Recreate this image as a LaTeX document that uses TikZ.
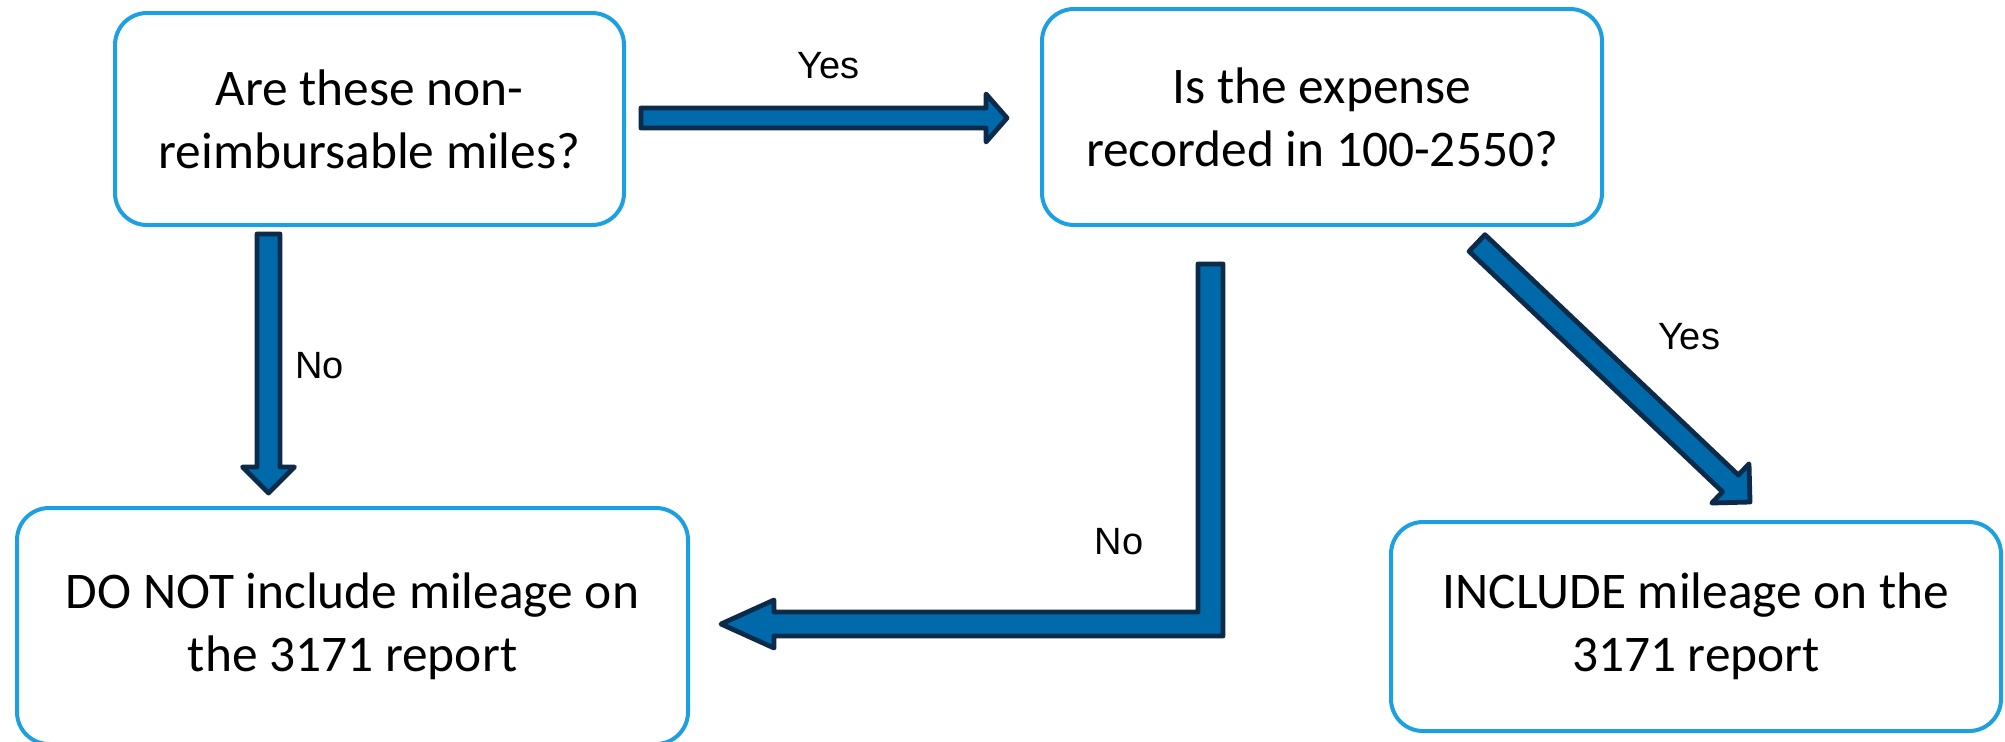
\documentclass[tikz,border=0pt]{standalone}
\usepackage{fontspec}
\setmainfont{Carlito}
\newfontfamily\labelfont{Liberation Sans}
\usetikzlibrary{calc}
\definecolor{boxblue}{RGB}{29,160,226}
\definecolor{arrfill}{RGB}{0,105,170}
\definecolor{arrline}{RGB}{12,43,74}
\tikzset{
  qbox/.style={draw=boxblue, line width=2pt, rounded corners=16pt, fill=white,
    align=center, font=\fontsize{25.7pt}{31.5pt}\selectfont, inner sep=0pt},
  blockarr/.style={fill=arrfill, draw=arrline, line width=2.4pt, line join=round},
  lbl/.style={font=\labelfont\fontsize{19pt}{22pt}\selectfont, inner sep=0pt}
}
% #1 start, #2 end, #3 shaft half width, #4 head half width, #5 head length
\newcommand{\blockarrow}[5]{%
  \coordinate (hb) at ($(#2)!#5!(#1)$);
  \path[blockarr] ($(#1)!#3!90:(#2)$) -- ($(hb)!#3!90:(#2)$) -- ($(hb)!#4!90:(#2)$)
    -- (#2) -- ($(hb)!#4!-90:(#2)$) -- ($(hb)!#3!-90:(#2)$) -- ($(#1)!#3!-90:(#2)$) -- cycle;
}
\begin{document}
\begin{tikzpicture}[x=0.5pt,y=-0.5pt]
\useasboundingbox[fill=white] (0,0) rectangle (2005,741);

% boxes
\node[qbox, minimum width=254.5pt, minimum height=106pt] (qa) at (369.5,119)
  {Are these non-\\reimbursable miles?};
\node[qbox, minimum width=280pt, minimum height=108pt] (qb) at (1322,117)
  {Is the expense\\recorded in 100-2550?};
\node[qbox, minimum width=335.5pt, minimum height=118pt] (nc) at (352.5,626)
  {DO NOT include mileage on\\the 3171 report};
\node[qbox, minimum width=305pt, minimum height=104.5pt] (nd) at (1696,626.5)
  {INCLUDE mileage on the\\3171 report};

% arrow end points
\coordinate (a1s) at (641,118);
\coordinate (a1e) at (1007,118);
\coordinate (a2s) at (268.5,234);
\coordinate (a2e) at (268.5,493);
\coordinate (a4s) at (1477,243);
\coordinate (a4e) at (1750,502);

\blockarrow{a1s}{a1e}{5pt}{12pt}{10.5pt}
\blockarrow{a2s}{a2e}{5.75pt}{13pt}{13pt}
\blockarrow{a4s}{a4e}{5.75pt}{13.5pt}{13.5pt}

% elbow arrow from qb to nc
\coordinate (e3a) at (1198,264);
\coordinate (e3b) at (1223,264);
\coordinate (e3c) at (1223,636);
\coordinate (e3tip) at (721,624);
\path[blockarr] (e3a) -- (e3b) -- (e3c) -- (774,636) -- (774,648) -- (e3tip)
  -- (774,600) -- (774,612) -- (1198,612) -- cycle;

% labels
\node[lbl] (l1) at (828.5,66) {Yes};
\node[lbl] (l2) at (319.5,366) {No};
\node[lbl] (l3) at (1119,542) {No};
\node[lbl] (l4) at (1689,336.5) {Yes};
\end{tikzpicture}
\end{document}
